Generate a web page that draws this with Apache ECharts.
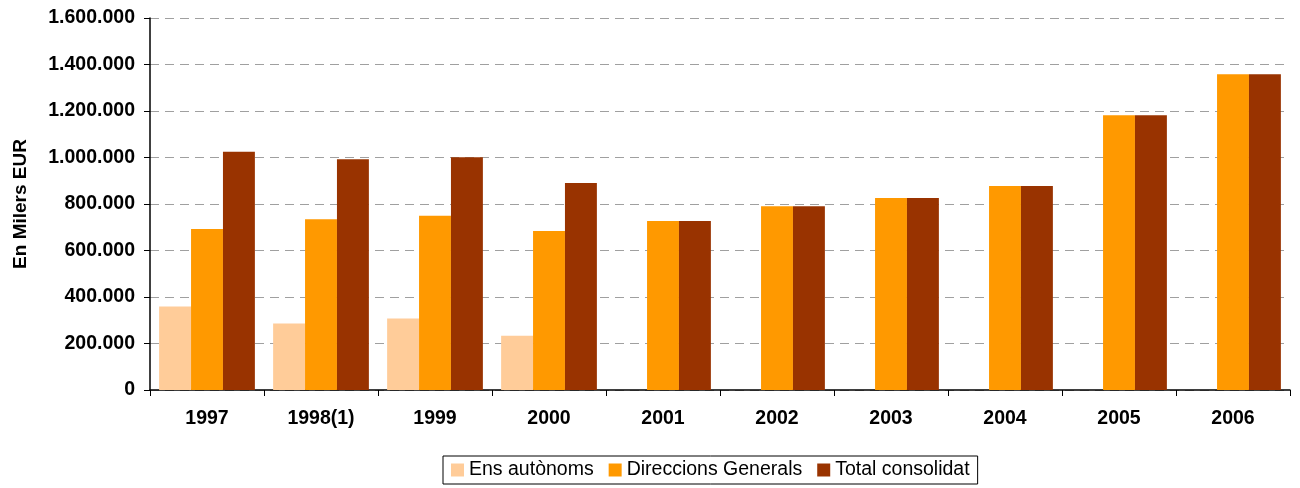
<!DOCTYPE html>
<html><head><meta charset="utf-8">
<script src="https://cdn.jsdelivr.net/npm/echarts@6/dist/echarts.min.js"></script>
<style>html,body{margin:0;padding:0;background:#fff}#c{width:1300px;height:488px}</style>
</head><body><div id="c"></div>
<script>
const categories = ['1997','1998(1)','1999','2000','2001','2002','2003','2004','2005','2006'];
const ensAutonoms = [359000, 286000, 307000, 233000, null, null, null, null, null, null];
const direccionsGenerals = [693000, 734000, 749000, 684000, 727000, 790000, 826000, 877000, 1182000, 1358000];
const totalConsolidat = [1025000, 993000, 1001000, 890000, 727000, 790000, 826000, 877000, 1182000, 1358000];
const seriesNames = ['Ens autònoms', 'Direccions Generals', 'Total consolidat'];
const colors = ['#FFCC99', '#FF9900', '#993300'];

const FONT = 'Liberation Sans, Arial, sans-serif';
function fmt(v){ return String(v).replace(/\B(?=(\d{3})+(?!\d))/g, '.'); }

const chart = echarts.init(document.getElementById('c'), null, {renderer:'canvas'});
chart.setOption({
  animation: false,
  color: colors,
  grid: {left: 150, right: 10, top: 18, bottom: 98, containLabel: false},
  legend: {
    left: 443, top: 456,
    itemWidth: 13, itemHeight: 13, itemGap: 15,
    borderColor: '#000', borderWidth: 1, padding: [4, 8, 4, 8],
    textStyle: {fontFamily: FONT, fontSize: 19.5, color: '#000'},
    icon: 'rect',
    data: seriesNames
  },
  xAxis: {
    type: 'category', data: categories,
    axisLine: {lineStyle: {color: '#000', width: 1.5}},
    axisTick: {show: true, length: 6, lineStyle: {color: '#000'}},
    axisLabel: {fontFamily: FONT, fontSize: 19.5, fontWeight: 'bold', color: '#000', margin: 19}
  },
  yAxis: {
    type: 'value', min: 0, max: 1600000, interval: 200000,
    name: 'En Milers EUR', nameLocation: 'middle', nameGap: 120,
    nameTextStyle: {fontFamily: FONT, fontSize: 19, fontWeight: 'bold', color: '#000'},
    axisLine: {show: true, lineStyle: {color: '#000', width: 1.5}},
    axisTick: {show: true, length: 6, lineStyle: {color: '#000'}},
    axisLabel: {fontFamily: FONT, fontSize: 19.5, fontWeight: 'bold', color: '#000', margin: 15, formatter: fmt},
    splitLine: {show: true, lineStyle: {color: '#a0a0a0', type: [9, 6], width: 1}}
  },
  series: [
    {name: seriesNames[0], type: 'bar', data: ensAutonoms, barGap: '0%', barCategoryGap: '16%'},
    {name: seriesNames[1], type: 'bar', data: direccionsGenerals, barGap: '0%', barCategoryGap: '16%'},
    {name: seriesNames[2], type: 'bar', data: totalConsolidat, barGap: '0%', barCategoryGap: '16%'}
  ]
});
</script></body></html>
